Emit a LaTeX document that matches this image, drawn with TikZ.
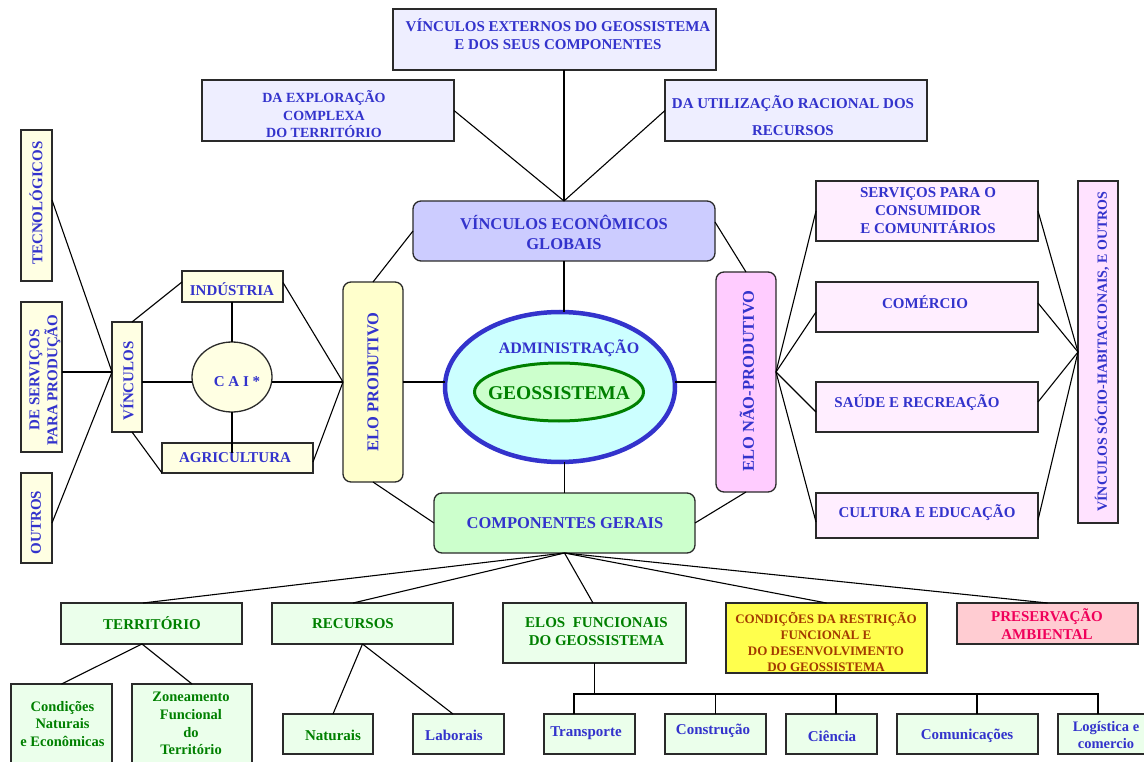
\documentclass[tikz,border=0pt]{standalone}
\usepackage{fontspec}
\setmainfont{Liberation Serif}
\usetikzlibrary{shapes.geometric,calc}

\definecolor{tblue}{HTML}{3333CC}
\definecolor{tgreen}{HTML}{008000}
\definecolor{tbrown}{HTML}{A33A00}
\definecolor{tpink}{HTML}{F0005A}
\definecolor{boxline}{HTML}{2A2A2A}
\definecolor{lav}{HTML}{EEEEFF}
\definecolor{lavdark}{HTML}{CCCCFF}
\definecolor{cream}{HTML}{FFFFE3}
\definecolor{yel}{HTML}{FFFFCC}
\definecolor{cyanfill}{HTML}{CCFFFF}
\definecolor{mint}{HTML}{CCFFCC}
\definecolor{pinkdark}{HTML}{FFCCFF}
\definecolor{pinklight}{HTML}{FFEEFF}
\definecolor{pinkmid}{HTML}{FFE2FF}
\definecolor{greenlight}{HTML}{EBFFEB}
\definecolor{brightyel}{HTML}{FFFF4D}
\definecolor{rose}{HTML}{FFCCD2}

\newcommand\fsz[2]{\fontsize{#1}{#2}\selectfont}

\begin{document}
\begin{tikzpicture}[x=1pt,y=-1pt,
  every node/.style={font=\bfseries\fsz{15}{18}, align=center, inner sep=0pt, outer sep=0pt},
  rbox/.style={draw=boxline, line width=1.3pt, rectangle},
  rrbox/.style={rbox, rounded corners=8pt},
  link/.style={draw=black, line width=1.1pt},
  bl/.style={text=tblue},
  gr/.style={text=tgreen},
  up/.style={rotate=90},
]
\clip (0,0) rectangle (1144,762);
\fill[white] (0,0) rectangle (1144,762);

% ================= boxes =================
% upper block: external links
\node[rbox, fill=lav, minimum width=323, minimum height=61] (vext) at (554.5,39.5) {};
\node[rbox, fill=lav, minimum width=252, minimum height=61] (daexp) at (328,110.5) {};
\node[rbox, fill=lav, minimum width=262, minimum height=61] (dautil) at (796,110.5) {};
\node[rrbox, fill=lavdark, minimum width=302, minimum height=60] (veg) at (564,231) {};

% centre
\node[ellipse, draw=tblue, line width=4.5pt, fill=cyanfill, minimum width=230, minimum height=150] (outer) at (560,387) {};
\node[ellipse, draw=tgreen, line width=3pt, fill=mint, minimum width=169, minimum height=58] (geo) at (559,392) {};
\node[rrbox, fill=yel, minimum width=60, minimum height=200] (elop) at (373,382) {};
\node[rrbox, fill=pinkdark, minimum width=60, minimum height=220] (elon) at (746,382) {};
\node[rrbox, fill=mint, minimum width=261, minimum height=60] (cg) at (564.5,523) {};

% right block: non-productive links
\node[rbox, fill=pinklight, minimum width=222, minimum height=60] (serv) at (927,211) {};
\node[rbox, fill=pinklight, minimum width=222, minimum height=50] (com) at (927,307) {};
\node[rbox, fill=pinklight, minimum width=222, minimum height=50] (saude) at (927,407) {};
\node[rbox, fill=pinklight, minimum width=222, minimum height=45] (cult) at (927,515.5) {};
\node[rbox, fill=pinkmid, minimum width=40, minimum height=342] (vsh) at (1098,352) {};

% left block: productive links
\node[rbox, fill=cream, minimum width=31, minimum height=151] (tec) at (36.5,205.5) {};
\node[rbox, fill=cream, minimum width=41, minimum height=150] (deserv) at (41.5,377) {};
\node[rbox, fill=cream, minimum width=31, minimum height=90] (outros) at (36.5,518) {};
\node[rbox, fill=cream, minimum width=30, minimum height=110] (vinc) at (127,377) {};
\node[rbox, fill=cream, minimum width=101, minimum height=31] (ind) at (232.5,286.5) {};
\node[rbox, fill=cream, minimum width=151, minimum height=30] (agri) at (237.5,458) {};
\node[ellipse, draw=boxline, line width=1.3pt, fill=cream, minimum width=80, minimum height=70] (cai) at (232,377) {};

% lower block: general components
\node[rbox, fill=greenlight, minimum width=181, minimum height=41] (terr) at (151.5,623.5) {};
\node[rbox, fill=greenlight, minimum width=181, minimum height=41] (rec) at (362.5,623.5) {};
\node[rbox, fill=greenlight, minimum width=183, minimum height=60] (elos) at (594.5,633) {};
\node[rbox, fill=brightyel, minimum width=201, minimum height=70] (cond) at (826.5,638) {};
\node[rbox, fill=rose, minimum width=181, minimum height=41] (pres) at (1047.5,623.5) {};
\node[rbox, fill=greenlight, minimum width=101, minimum height=80] (cnat) at (61.5,724) {};
\node[rbox, fill=greenlight, minimum width=120, minimum height=79] (zon) at (192,723.5) {};
\node[rbox, fill=greenlight, minimum width=90, minimum height=40] (nat) at (328,734) {};
\node[rbox, fill=greenlight, minimum width=91, minimum height=40] (lab) at (458.5,734) {};
\node[rbox, fill=greenlight, minimum width=91, minimum height=40] (tra) at (589.5,734) {};
\node[rbox, fill=greenlight, minimum width=101, minimum height=40] (cons) at (715.5,734) {};
\node[rbox, fill=greenlight, minimum width=91, minimum height=40] (cie) at (831.5,734) {};
\node[rbox, fill=greenlight, minimum width=141, minimum height=40] (comu) at (967.5,734) {};
\node[rbox, fill=greenlight, minimum width=92, minimum height=40] (logi) at (1104,734) {};

% ================= texts =================
\node[bl] (vextT) at (558,34) {VÍNCULOS EXTERNOS DO GEOSSISTEMA\\E DOS SEUS COMPONENTES};
\node[bl, font=\bfseries\fsz{14}{17.5}] (daexpT) at (324,114.5) {DA EXPLORAÇÃO\\COMPLEXA\\DO TERRITÓRIO};
\node[bl] (dautilT) at (793,115.5) {DA UTILIZAÇÃO RACIONAL DOS\\[9pt]RECURSOS};
\node[bl, font=\bfseries\fsz{16.5}{20}] (vegT) at (564,232) {VÍNCULOS ECONÔMICOS\\GLOBAIS};

\node[bl, font=\bfseries\fsz{16}{19}] (admin) at (569,348) {ADMINISTRAÇÃO};
\node[gr, font=\bfseries\fsz{19.5}{22}] (geoT) at (559,393) {GEOSSISTEMA};
\node[bl, up, font=\bfseries\fsz{16.5}{20}] (elopT) at (373,382) {ELO PRODUTIVO};
\node[bl, up, font=\bfseries\fsz{16.5}{20}] (elonT) at (747,381) {ELO NÃO-PRODUTIVO};
\node[bl, font=\bfseries\fsz{16.5}{19}] (cgT) at (565,523) {COMPONENTES GERAIS};

\node[bl] (servT) at (928,211) {SERVIÇOS PARA O\\CONSUMIDOR\\E COMUNITÁRIOS};
\node[bl] (comT) at (925,302) {COMÉRCIO};
\node[bl] (saudeT) at (917,403) {SAÚDE E RECREAÇÃO};
\node[bl] (cultT) at (927,513) {CULTURA E EDUCAÇÃO};
\node[bl, up, font=\bfseries\fsz{14}{17}] (vshT) at (1102,351.5) {VÍNCULOS SÓCIO-HABITACIONAIS, E OUTROS};

\node[bl, up] (tecT) at (36,203) {TECNOLÓGICOS};
\node[bl, up] (deservT) at (45,380) {DE SERVIÇOS\\PARA PRODUÇÃO};
\node[bl, up] (outrosT) at (36,522.5) {OUTROS};
\node[bl, up] (vincT) at (127,381) {VÍNCULOS};
\node[bl] (indT) at (232,289) {INDÚSTRIA};
\node[bl] (agriT) at (235,458) {AGRICULTURA};
\node[bl] (caiT) at (237,382) {C A I *};

\node[gr] (terrT) at (152,623) {TERRITÓRIO};
\node[gr] (recT) at (353,624) {RECURSOS};
\node[gr] (elosT) at (596.5,632) {ELOS~ FUNCIONAIS\\DO GEOSSISTEMA};
\node[text=tbrown, font=\bfseries\fsz{13}{16.3}] (condT) at (826,642) {CONDIÇÕES DA RESTRIÇÃO\\FUNCIONAL E\\DO DESENVOLVIMENTO\\DO GEOSSISTEMA};
\node[text=tpink] (presT) at (1047,624) {PRESERVAÇÃO\\AMBIENTAL};
\node[gr, font=\bfseries\fsz{14.5}{17.5}] (cnatT) at (62.5,724) {Condições\\Naturais\\e Econômicas};
\node[gr, font=\bfseries\fsz{14.5}{17.7}] (zonT) at (191,723.5) {Zoneamento\\Funcional\\do\\Território};
\node[gr] (natT) at (333,735) {Naturais};
\node[bl] (labT) at (454,735) {Laborais};
\node[bl] (traT) at (586,733) {Transporte};
\node[bl] (consT) at (713,731) {Construção};
\node[bl] (cieT) at (832,736) {Ciência};
\node[bl] (comuT) at (967,736) {Comunicações};
\node[bl, font=\bfseries\fsz{14.5}{17}] (logiT) at (1106,735.5) {Logística e\\comercio};

% ================= connectors =================
\draw[link] ($(vext.south)+(9.5,0)$) -- (veg.north);
\draw[link] (daexp.east) -- (veg.north);
\draw[link] (dautil.west) -- (veg.north);
\draw[link] (veg.west) -- (elop.north);
\draw[link] ($(veg.east)+(0,-9)$) -- (elon.north);
\draw[link] (veg.south) -- (veg.south |- outer.north);
\draw[link] (elop.east) -- (elop.east -| outer.west);
\draw[link] (outer.east |- elon.west) -- (elon.west);
\draw[link] (cg.north) -- (cg.north |- outer.south);
\draw[link] (elop.south) -- (cg.west);
\draw[link] (elon.south) -- (cg.east);

\coordinate (ej) at ($(elon.east)+(0,-10)$);
\draw[link] (ej) -- (serv.west);
\draw[link] (ej) -- ($(com.west)+(0,5)$);
\draw[link] (ej) -- ($(saude.west)+(0,5)$);
\draw[link] (ej) -- ($(cult.west)+(0,6.5)$);
\draw[link] (vsh.west) -- (serv.east);
\draw[link] (vsh.west) -- ($(com.east)+(0,-4)$);
\draw[link] (vsh.west) -- ($(saude.east)+(0,-5)$);
\draw[link] (vsh.west) -- ($(cult.east)+(0,4.5)$);

\coordinate (vj) at ($(vinc.west)+(0,-5)$);
\draw[link] ($(tec.east)+(0,-5.5)$) -- (vj);
\draw[link] ($(deserv.east)+(0,-5)$) -- (vj);
\draw[link] ($(outros.east)+(0,5)$) -- (vj);
\draw[link] ($(vinc.north east)+(-10,0)$) -- ($(ind.north west)+(0,11)$);
\draw[link] ($(vinc.south east)+(-10,0)$) -- (agri.south west);
\draw[link] ($(vinc.east)+(0,5)$) -- ($(cai.west)+(0,5)$);
\draw[link] ($(cai.east)+(0,5)$) -- (elop.west);
\draw[link] (cai.north |- ind.south) -- (cai.north);
\draw[link] (cai.south) -- ($(cai.south |- agri.north)+(0,10)$);
\draw[link] ($(ind.east)+(0,-4)$) -- (elop.west);
\draw[link] ($(agri.east)+(0,4)$) -- (elop.west);

\draw[link] (cg.south) -- ($(terr.north)+(-8.5,0)$);
\draw[link] (cg.south) -- ($(rec.north)+(-9.5,0)$);
\draw[link] (cg.south) -- ($(elos.north)+(-1.5,0)$);
\draw[link] (cg.south) -- (cond.north);
\draw[link] (cg.south) -- (pres.north);

\draw[link] ($(terr.south)+(-9.5,0)$) -- (cnat.north);
\draw[link] ($(terr.south)+(-9.5,0)$) -- (zon.north);
\draw[link] (rec.south) -- ($(nat.north)+(5,0)$);
\draw[link] (rec.south) -- ($(lab.north)+(-5.5,0)$);

\coordinate (bus) at ($(elos.south)+(0,31)$);
\draw[link] (elos.south) -- (bus);
\draw[link] ($(tra.north)+(-15.5,0)$) |- (bus);
\draw[link] (cons.north) |- (bus);
\draw[link] ($(cie.north)+(4.5,0)$) |- (bus);
\draw[link] ($(comu.north)+(9.5,0)$) |- (bus);
\draw[link] ($(logi.north)+(-6,0)$) |- (bus);
\end{tikzpicture}
\end{document}
